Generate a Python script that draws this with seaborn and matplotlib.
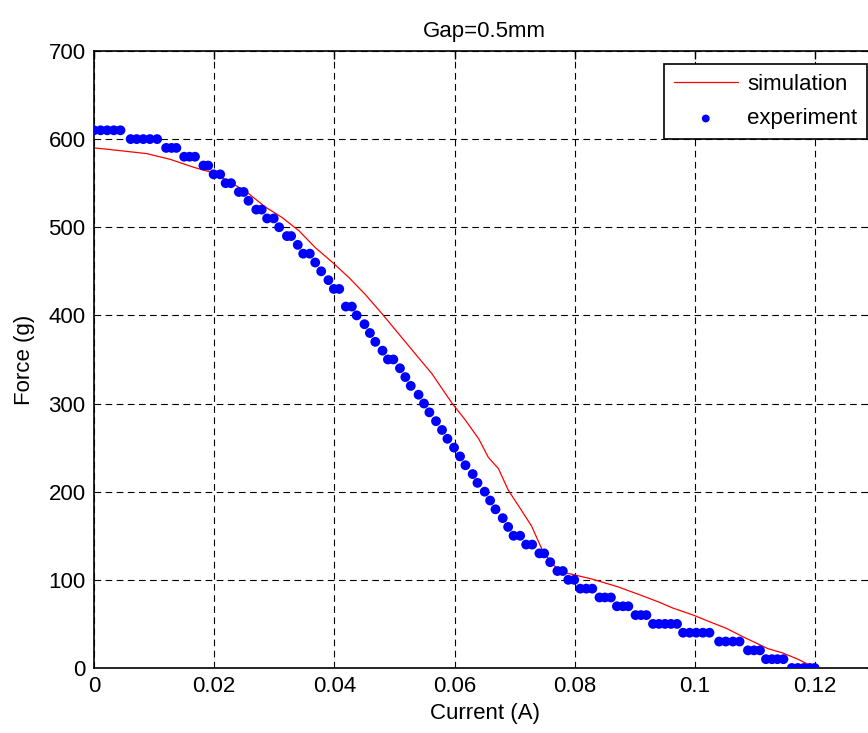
import matplotlib
matplotlib.use("Agg")
import matplotlib.pyplot as plt
import seaborn as sns
import pandas as pd

# simulation curve (red line)
sim_current = [0.0000, 0.0022, 0.0055, 0.0088, 0.0127, 0.0166, 0.0197, 0.0219,
               0.0252, 0.0285, 0.0313, 0.0341, 0.0368, 0.0397, 0.0424, 0.0451,
               0.0479, 0.0507, 0.0535, 0.0562, 0.0596, 0.0617, 0.0640, 0.0656,
               0.0673, 0.0689, 0.0711, 0.0728, 0.0745, 0.0761, 0.0777, 0.0797,
               0.0828, 0.0872, 0.0908, 0.0939, 0.0963, 0.0997, 0.1024, 0.1052,
               0.1081, 0.1121, 0.1146, 0.1171, 0.1193, 0.1200]
sim_force = [590, 588.5, 586, 583.5, 577, 568, 562, 554,
             541, 523, 511, 496, 477, 460, 443, 424,
             402, 379, 356, 334, 300, 282, 260, 239,
             226, 202, 179, 161, 135, 119, 109, 106,
             101, 92, 83, 75, 68, 60, 52.5, 45,
             35, 22, 17, 10, 2.5, 1]

# measured points (blue dots)
exp_current = [0.0000, 0.0011, 0.0022, 0.0033, 0.0044,
               0.0061, 0.0071, 0.0082, 0.0093, 0.0105,
               0.0120, 0.0129, 0.0137,
               0.0150, 0.0159, 0.0168,
               0.0182, 0.0190,
               0.0199, 0.0210,
               0.0219, 0.0228,
               0.0241, 0.0249,
               0.0257,
               0.0270, 0.0279,
               0.0288, 0.0299,
               0.0308,
               0.0321, 0.0328,
               0.0339,
               0.0348, 0.0359,
               0.0368, 0.0378, 0.0390,
               0.0399, 0.0408,
               0.0419, 0.0429,
               0.0437, 0.0450, 0.0459, 0.0468, 0.0480,
               0.0489, 0.0498,
               0.0509, 0.0518, 0.0527, 0.0540, 0.0549, 0.0558, 0.0569,
               0.0579, 0.0588, 0.0599, 0.0609, 0.0618, 0.0630, 0.0638,
               0.0650, 0.0659, 0.0668, 0.0680, 0.0689,
               0.0698, 0.0709,
               0.0719, 0.0729,
               0.0741, 0.0749,
               0.0759,
               0.0771, 0.0780,
               0.0789, 0.0799,
               0.0809, 0.0819, 0.0829,
               0.0841, 0.0850, 0.0860,
               0.0870, 0.0880, 0.0889,
               0.0901, 0.0910, 0.0919,
               0.0930, 0.0940, 0.0950, 0.0960, 0.0970,
               0.0980, 0.0991, 0.1002, 0.1013, 0.1024,
               0.1040, 0.1051, 0.1063, 0.1074,
               0.1088, 0.1098, 0.1108,
               0.1118, 0.1128, 0.1137, 0.1147,
               0.1161, 0.1171, 0.1181, 0.1191, 0.1199]
exp_force = [610, 610, 610, 610, 610,
             600, 600, 600, 600, 600,
             590, 590, 590,
             580, 580, 580,
             570, 570,
             560, 560,
             550, 550,
             540, 540,
             530,
             520, 520,
             510, 510,
             500,
             490, 490,
             480,
             470, 470,
             460, 450, 440,
             430, 430,
             410, 410,
             400, 390, 380, 370, 360,
             350, 350,
             340, 330, 320, 310, 300, 290, 280,
             270, 260, 250, 240, 230, 220, 210,
             200, 190, 180, 170, 160,
             150, 150,
             140, 140,
             130, 130,
             120,
             110, 110,
             100, 100,
             90, 90, 90,
             80, 80, 80,
             70, 70, 70,
             60, 60, 60,
             50, 50, 50, 50, 50,
             40, 40, 40, 40, 40,
             30, 30, 30, 30,
             20, 20, 20,
             10, 10, 10, 10,
             0, 0, 0, 0, 0]

x_ticks = [0, 0.02, 0.04, 0.06, 0.08, 0.1, 0.12]
x_tick_labels = ["0", "0.02", "0.04", "0.06", "0.08", "0.1", "0.12"]
y_ticks = [0, 100, 200, 300, 400, 500, 600, 700]

sim = pd.DataFrame({"Current": sim_current, "Force": sim_force})
exp = pd.DataFrame({"Current": exp_current, "Force": exp_force})

sns.set_theme(style="white")
plt.rcParams["font.family"] = ["Liberation Sans", "DejaVu Sans"]
plt.rcParams["text.color"] = "black"
plt.rcParams["axes.labelcolor"] = "black"

fig = plt.figure(figsize=(8.68, 7.33), dpi=100)
# right edge of the axes runs past the picture, as in the reference
ax = fig.add_axes([0.1083, 0.0887, 0.9002, 0.8418])

sns.lineplot(data=sim, x="Current", y="Force", ax=ax, color="#ff0000",
             linewidth=0.9, sort=False, estimator=None, label="simulation")
sns.scatterplot(data=exp, x="Current", y="Force", ax=ax, color="#0000ff",
                s=50, edgecolor="none", linewidth=0, label="experiment", zorder=3)

ax.set_xlim(0, 0.13)
ax.set_ylim(0, 700)
ax.set_xticks(x_ticks)
ax.set_xticklabels(x_tick_labels)
ax.set_yticks(y_ticks)

ax.grid(True, color="black", linestyle=(0, (6, 4)), linewidth=0.8)
ax.set_axisbelow(True)
for sp in ax.spines.values():
    sp.set_visible(True)
    sp.set_color("black")
    sp.set_linewidth(1.2)

ax.tick_params(direction="in", length=6, width=1, top=True, right=True,
               labelsize=16, colors="black", pad=6)

ax.set_title("Gap=0.5mm", fontsize=16, pad=10, color="black")
ax.set_xlabel("Current (A)", fontsize=16, labelpad=4)
ax.set_ylabel("Force (g)", fontsize=16, labelpad=10)

leg = ax.legend(loc="upper right", bbox_to_anchor=(867 / 868, 1 - 64 / 733),
                bbox_transform=fig.transFigure, borderaxespad=0, fontsize=16,
                frameon=True, fancybox=False, edgecolor="black",
                handlelength=2.9, handletextpad=0.4, borderpad=0.45,
                labelspacing=0.6, framealpha=1, markerscale=0.8)
leg.get_frame().set_linewidth(1.2)
for t in leg.get_texts():
    t.set_color("black")

fig.savefig("out.png", dpi=100)
